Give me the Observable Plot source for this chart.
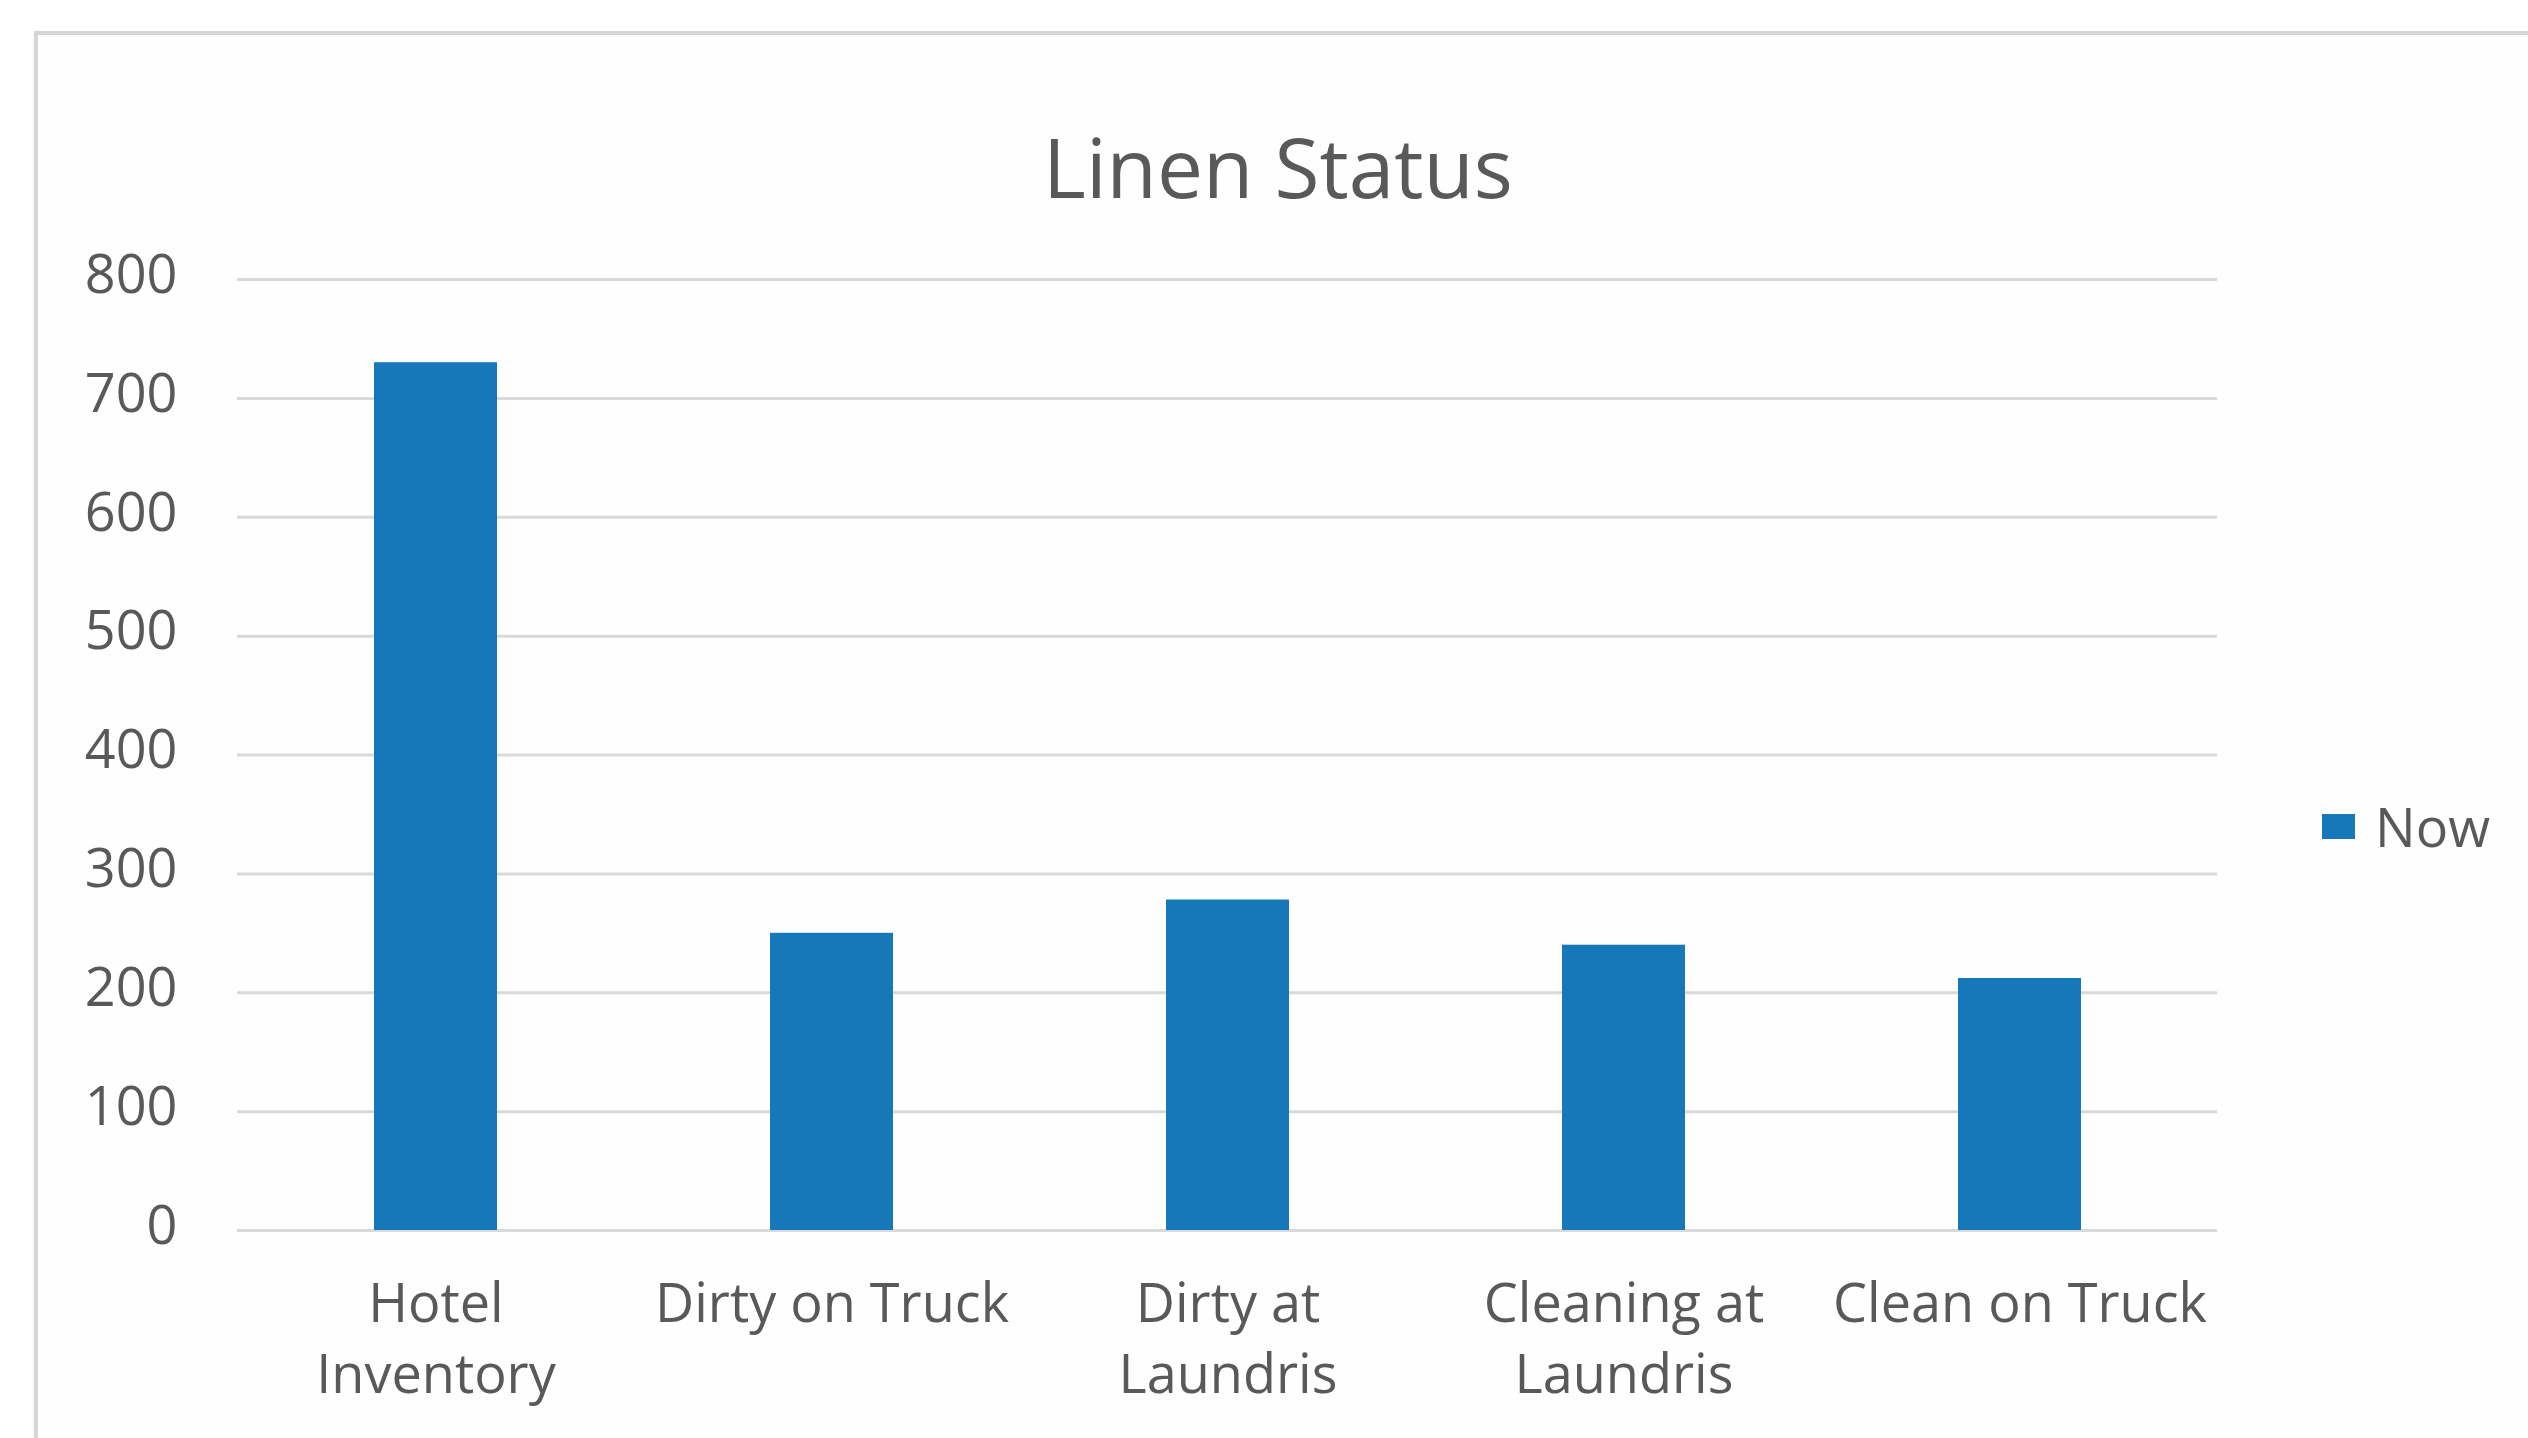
<!DOCTYPE html>
<html>
<head>
<meta charset="utf-8">
<script src="https://cdn.jsdelivr.net/npm/d3@7"></script>
<script src="https://cdn.jsdelivr.net/npm/@observablehq/plot@0.6"></script>
<style>
  html, body { margin: 0; padding: 0; background: #ffffff; }
  #page { position: relative; width: 2528px; height: 1438px; overflow: hidden; background: #ffffff; font-family: "Open Sans", sans-serif; }
  #frame { position: absolute; left: 34px; top: 31px; width: 2700px; height: 1600px; border: 4px solid #d6d6d6; box-shadow: 0 2px 4px rgba(0,0,0,0.06); background: #fefefe; }
  #title { position: absolute; left: 1278px; top: 125px; transform: translateX(-50%); font-size: 82px; line-height: 1; color: #595959; white-space: nowrap; }
  #chart { position: absolute; left: 0; top: 200px; }
  #legend { position: absolute; left: 2322px; top: 791px; display: flex; align-items: center; gap: 20px; font-size: 54px; color: #595959; line-height: 70px; }
  #legend .swatch { width: 33px; height: 25px; background: #1677b9; }
</style>
</head>
<body>
<div id="page">
  <div id="frame"></div>
  <div id="title">Linen Status</div>
  <div id="chart"></div>
  <div id="legend"><div class="swatch"></div><span>Now</span></div>
</div>
<script>
const categories = ["Hotel Inventory", "Dirty on Truck", "Dirty at Laundris", "Cleaning at Laundris", "Clean on Truck"];
const tickLabels = ["Hotel\nInventory", "Dirty on Truck", "Dirty at\nLaundris", "Cleaning at\nLaundris", "Clean on Truck"];
const nowValues = [730, 250, 278, 240, 212];
const yTicks = [0, 100, 200, 300, 400, 500, 600, 700, 800];
const seriesName = "Now";
const barColor = "#1677b9";

const data = categories.map((c, i) => ({category: c, value: nowValues[i], series: seriesName}));

const chart = Plot.plot({
  width: 2400,
  height: 1238,
  marginLeft: 237,
  marginRight: 183,
  marginTop: 79,
  marginBottom: 208,
  style: {fontFamily: "Open Sans", background: "transparent", overflow: "visible"},
  x: {domain: categories, paddingInner: 0.69, paddingOuter: 0.345, label: null},
  y: {domain: [0, 800], label: null},
  marks: [
    Plot.gridY(yTicks, {stroke: "#d9d9d9", strokeOpacity: 1, strokeWidth: 3}),
    Plot.barY(data, {x: "category", y: "value", fill: barColor}),
    Plot.axisY(yTicks, {tickSize: 0, tickPadding: 60, fontSize: 54, fill: "#595959", dy: -4, label: null}),
    Plot.axisX({tickSize: 0, tickPadding: 42, fontSize: 54, fill: "#595959", lineHeight: 1.3,
      tickFormat: d => tickLabels[categories.indexOf(d)], label: null})
  ]
});
document.getElementById("chart").appendChild(chart);
</script>
</body>
</html>
